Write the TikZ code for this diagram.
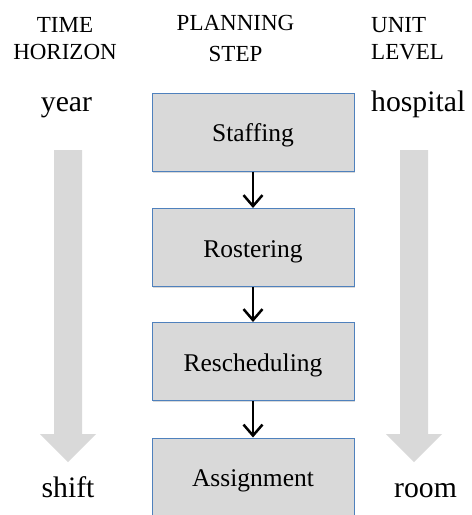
\documentclass[tikz,border=0pt]{standalone}
\usepackage{fontspec}
\setmainfont{LiberationSerif}[Extension=.ttf, UprightFont=*-Regular, BoldFont=*-Bold]
\usetikzlibrary{arrows.meta,shadows}
\definecolor{boxfill}{HTML}{D9D9D9}
\definecolor{boxline}{HTML}{4F81BD}
\definecolor{bigarrowfill}{HTML}{D9D9D9}
\begin{document}
\begin{tikzpicture}[x=1pt,y=-1pt,
  stepbox/.style={draw=boxline, line width=1pt, fill=boxfill,
    minimum width=202pt, minimum height=78pt, inner sep=0pt,
    text height=19pt, text depth=0pt,
    font=\fontsize{25.5}{30}\selectfont,
    drop shadow={shadow xshift=1pt,shadow yshift=-1.5pt,opacity=0.3}},
  flow/.style={-{Straight Barb[length=11pt,width=19pt,line width=2.5pt]}, line width=2.8pt},
  headtext/.style={font=\fontsize{23}{27}\selectfont, inner sep=0pt},
  sidetext/.style={font=\fontsize{29.7}{34}\selectfont, inner sep=0pt},
  bigarrow/.style={fill=bigarrowfill}]
\useasboundingbox (0,0) rectangle (472,515);

% big gray arrows
\fill[bigarrow] (54,150) -- (82,150) -- (82,434) -- (96,434) -- (68,462) -- (40,434) -- (54,434) -- cycle;
\fill[bigarrow] (400,150) -- (428,150) -- (428,434) -- (442,434) -- (414,462) -- (386,434) -- (400,434) -- cycle;

% headers
\node[headtext, anchor=base] (h1a) at (65,32) {TIME};
\node[headtext, anchor=base] (h1b) at (65,59) {HORIZON};
\node[headtext, anchor=base] (h2a) at (235.5,30) {PLANNING};
\node[headtext, anchor=base] (h2b) at (235.5,61) {STEP};
\node[headtext, anchor=base west] (h3a) at (371,32) {UNIT};
\node[headtext, anchor=base west] (h3b) at (371,59) {LEVEL};

% side words
\node[sidetext, anchor=base] (year) at (66.5,111) {year};
\node[sidetext, anchor=base west] (hospital) at (371,111) {hospital};
\node[sidetext, anchor=base] (shift) at (68,497) {shift};
\node[sidetext, anchor=base west] (room) at (394,497) {room};

% steps
\node[stepbox] (staffing) at (253,132) {Staffing};
\node[stepbox] (rostering) at (253,247.5) {Rostering};
\node[stepbox] (resched) at (253,361.5) {Rescheduling};
\node[stepbox] (assign) at (253,477) {Assignment};

\draw[flow] (staffing) -- (rostering);
\draw[flow] (rostering) -- (resched);
\draw[flow] (resched) -- (assign);
\end{tikzpicture}
\end{document}
